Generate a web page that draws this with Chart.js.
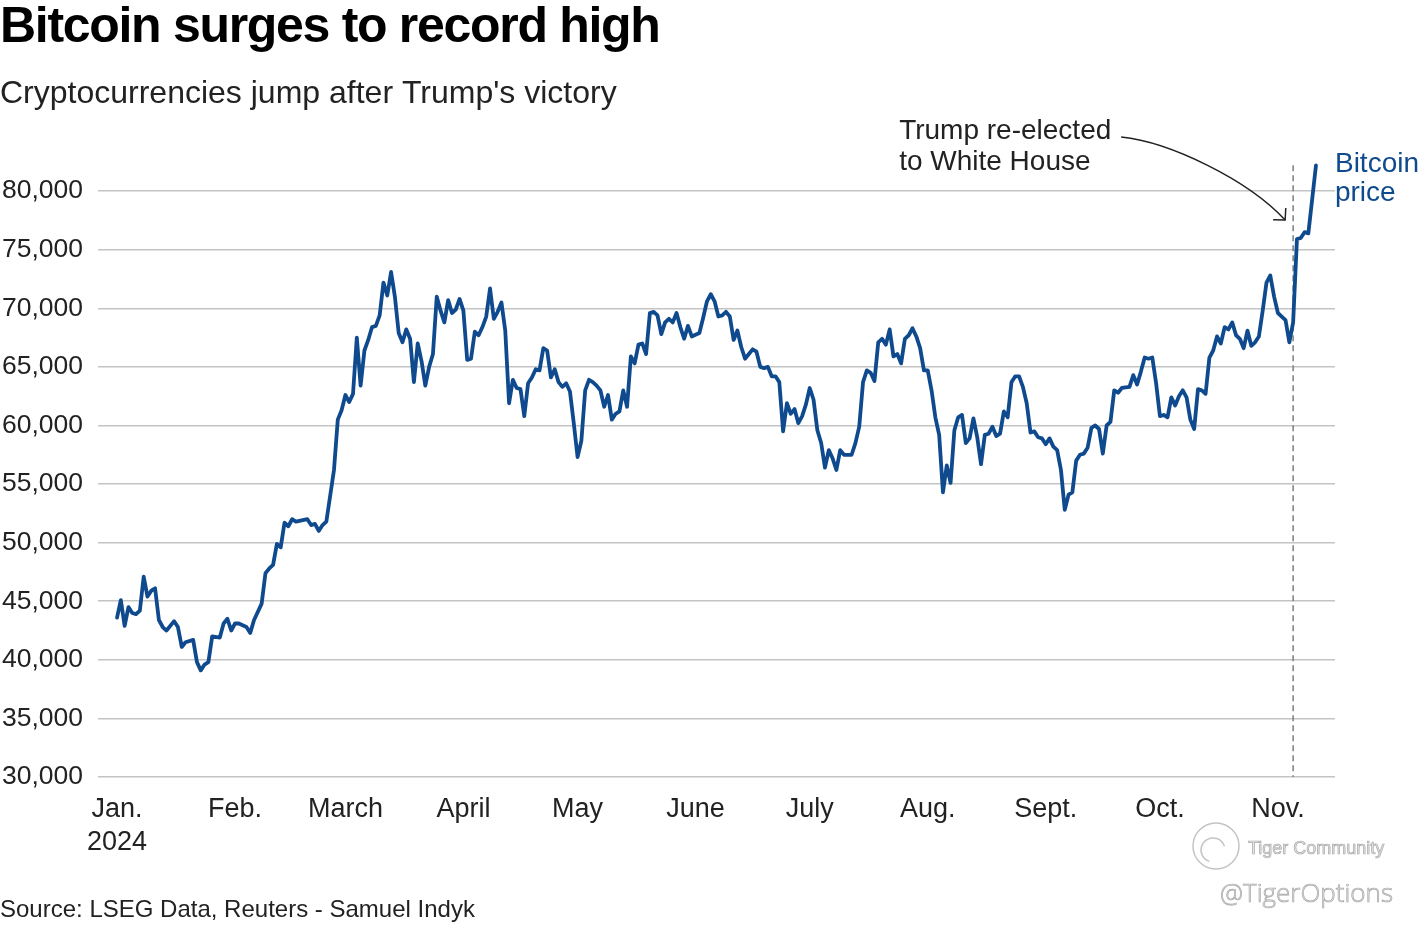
<!DOCTYPE html>
<html>
<head>
<meta charset="utf-8">
<title>Bitcoin surges to record high</title>
<script src="https://cdn.jsdelivr.net/npm/chart.js@4.4.1/dist/chart.umd.min.js"></script>
<style>
  html, body { margin: 0; padding: 0; background: #fff; }
  canvas { display: block; }
</style>
</head>
<body>
<canvas id="btcChart" width="1420" height="926"></canvas>
<script>
// day offsets from Jan 1 2024, and the price for that day
var days = [
  0, 1, 2, 3, 4, 5, 6, 7, 8, 9, 10, 11, 12, 13, 15, 16, 17, 18, 20, 21, 22, 23, 24, 25, 27, 28, 29, 30,
  31, 32, 34, 35, 36, 38, 39, 40, 41, 42, 43, 44, 45, 46, 47, 50, 51, 52, 53, 54, 55, 57, 58, 59,
  60, 61, 62, 63, 64, 65, 66, 67, 68, 69, 70, 71, 72, 73, 74, 75, 76, 77, 78, 79, 80, 81, 82, 83, 84, 85, 86, 87, 88, 89, 90,
  91, 92, 93, 94, 95, 96, 97, 98, 99, 100, 101, 102, 103, 104, 105, 106, 107, 108, 109, 110, 111, 112, 113, 114, 115, 116, 117, 118, 119, 120,
  121, 122, 123, 124, 125, 126, 127, 128, 129, 130, 131, 132, 133, 134, 135, 136, 137, 138, 139, 140, 141, 142, 143, 144, 145, 146, 147, 148, 149, 150, 151,
  153, 154, 155, 156, 157, 158, 159, 160, 161, 162, 163, 164, 165, 166, 167, 168, 169, 170, 171, 172, 173, 174, 175, 176, 177, 178, 179, 180, 181,
  182, 183, 184, 185, 186, 187, 188, 189, 190, 191, 193, 194, 195, 196, 197, 198, 199, 200, 201, 202, 203, 204, 205, 206, 207, 208, 209, 210, 211, 212,
  213, 214, 215, 216, 217, 218, 219, 220, 221, 222, 223, 224, 225, 226, 227, 228, 229, 230, 231, 232, 233, 234, 235, 236, 237, 238, 239, 240, 241, 242, 243,
  244, 245, 246, 247, 248, 249, 250, 251, 252, 253, 254, 255, 256, 257, 258, 259, 260, 261, 262, 263, 264, 266, 267, 268, 269, 270, 271, 272, 273,
  274, 275, 276, 277, 278, 279, 280, 281, 282, 283, 284, 285, 286, 287, 288, 289, 290, 291, 292, 293, 294, 295, 296, 297, 298, 299, 300, 301, 302, 303, 304,
  305, 306, 307, 308, 309, 310, 311, 312, 313, 314, 315
];
var prices = [
  43600, 45100, 42900, 44500, 44000, 43900, 44200, 47100, 45400, 45900, 46100, 43400, 42800, 42500, 43300, 42800, 41100, 41500, 41700, 39800, 39100, 39600, 39800, 42000, 41900, 43100, 43500, 42500,
  43100, 43100, 42800, 42300, 43400, 44800, 47400, 47800, 48100, 49900, 49600, 51700, 51400, 52000, 51800, 52000, 51500, 51600, 51000, 51500, 51800, 56200, 60500, 61300,
  62600, 62000, 62700, 67500, 63400, 66400, 67300, 68400, 68500, 69400, 72200, 71100, 73100, 71000, 67900, 67100, 68200, 67400, 63700, 67000, 65500, 63400, 65000, 66100, 71000, 69800, 68800, 70700, 69600, 69900, 70800,
  69800, 65600, 65700, 68000, 67700, 68400, 69300, 71700, 69100, 69700, 70500, 68100, 61900, 63900, 63200, 63100, 60800, 63600, 64100, 64800, 64700, 66600, 66400, 64100, 64800, 63700, 63300, 63600, 62900, 60200,
  57300, 58700, 63000, 63900, 63700, 63400, 63000, 61600, 62600, 60500, 61000, 61200, 63000, 61600, 65900, 65300, 66900, 67000, 66100, 69600, 69700, 69400, 67800, 68800, 69100, 68800, 69600, 68400, 67400, 68500, 67600,
  67900, 69200, 70600, 71200, 70600, 69300, 69400, 69700, 69300, 67300, 68100, 66700, 65700, 66100, 66500, 66300, 65000, 64900, 65000, 64200, 64200, 63700, 59500, 61900, 61000, 61400, 60200, 60800, 61800,
  63200, 62200, 59600, 58500, 56400, 57900, 57200, 56200, 57900, 57500, 57500, 58500, 59900, 63700, 64700, 64500, 63800, 67100, 67400, 66900, 68200, 65900, 66100, 65300, 67400, 67700, 68300, 67600, 66600, 64700,
  64700, 63000, 60700, 59200, 54300, 56600, 55100, 59600, 60700, 60900, 58500, 58900, 60600, 59000, 56700, 59200, 59300, 59900, 59100, 59300, 61200, 60700, 63700, 64200, 64200, 63300, 61900, 59400, 59500, 59000, 58900,
  58400, 58900, 58200, 57900, 56200, 52800, 54100, 54300, 57000, 57500, 57600, 58100, 59800, 60000, 59700, 57600, 60000, 60300, 63000, 62800, 63200, 63300, 64300, 63500, 64600, 65800, 65700, 65800, 63600,
  60800, 60900, 60700, 62400, 61700, 62500, 63000, 62400, 60500, 59700, 63100, 63000, 62700, 65800, 66400, 67600, 67000, 68400, 68200, 68800, 67700, 67400, 66600, 68100, 66800, 67100, 67600, 69800, 72200, 72800, 71000,
  69600, 69300, 69000, 67100, 68800, 75900, 76000, 76500, 76400, 79300, 82200
];

var monthStarts = [0, 31, 60, 91, 121, 152, 182, 213, 244, 274, 305];
var monthLabels = ['Jan.', 'Feb.', 'March', 'April', 'May', 'June', 'July', 'Aug.', 'Sept.', 'Oct.', 'Nov.'];
var yearLabel = '2024';
var yTicks = [30000, 35000, 40000, 45000, 50000, 55000, 60000, 65000, 70000, 75000, 80000];
var electionDay = 309;

var lineColor = '#0f4a8e';
var textColor = '#222222';
var fontFamily = '"Liberation Sans", Arial, sans-serif';

var annotationPlugin = {
    id: 'annotations',
    beforeDatasetsDraw: function (chart) {
        var ctx = chart.ctx;
        var xs = chart.scales.x;
        var ys = chart.scales.y;
        var px = xs.getPixelForValue(electionDay);
        ctx.save();
        ctx.strokeStyle = '#7d7d7d';
        ctx.lineWidth = 1.5;
        ctx.setLineDash([6, 4]);
        ctx.beginPath();
        ctx.moveTo(px, ys.getPixelForValue(prices[prices.length - 1]));
        ctx.lineTo(px, ys.bottom);
        ctx.stroke();
        ctx.restore();
    },
    afterDraw: function (chart) {
        var ctx = chart.ctx;
        var xs = chart.scales.x;
        var ys = chart.scales.y;
        var px = xs.getPixelForValue(electionDay);
        ctx.save();

        // title block
        ctx.textAlign = 'left';
        ctx.textBaseline = 'alphabetic';
        ctx.fillStyle = '#000';
        ctx.font = 'bold 50px ' + fontFamily;
        ctx.letterSpacing = '-1.3px';
        ctx.fillText('Bitcoin surges to record high', 0, 42);
        ctx.letterSpacing = '0px';
        ctx.fillStyle = textColor;
        ctx.font = '32px ' + fontFamily;
        ctx.fillText("Cryptocurrencies jump after Trump's victory", 0, 103);
        ctx.font = '24px ' + fontFamily;
        ctx.fillText('Source: LSEG Data, Reuters - Samuel Indyk', 0, 917);

        // election note + arrow
        ctx.font = '28px ' + fontFamily;
        ctx.fillText('Trump re-elected', px - 394, 139);
        ctx.fillText('to White House', px - 394, 170);

        var p0 = [px - 172, 137], c1 = [px - 123, 142], c2 = [px - 45, 180], p3 = [px - 8, 220];
        ctx.strokeStyle = '#222';
        ctx.lineWidth = 1.5;
        ctx.beginPath();
        ctx.moveTo(p0[0], p0[1]);
        ctx.bezierCurveTo(c1[0], c1[1], c2[0], c2[1], p3[0], p3[1]);
        ctx.stroke();
        var back = Math.atan2(c2[1] - p3[1], c2[0] - p3[0]);
        ctx.beginPath();
        ctx.moveTo(p3[0] + 12 * Math.cos(back - 0.8), p3[1] + 12 * Math.sin(back - 0.8));
        ctx.lineTo(p3[0], p3[1]);
        ctx.lineTo(p3[0] + 12 * Math.cos(back + 0.8), p3[1] + 12 * Math.sin(back + 0.8));
        ctx.stroke();

        // series label at the end of the line
        var lastX = xs.getPixelForValue(days[days.length - 1]);
        var lastY = ys.getPixelForValue(prices[prices.length - 1]);
        ctx.fillStyle = lineColor;
        ctx.fillText('Bitcoin', lastX + 19, lastY + 7);
        ctx.fillText('price', lastX + 19, lastY + 36);

        // watermark
        ctx.strokeStyle = '#c4c4c4';
        ctx.lineWidth = 1.5;
        ctx.beginPath();
        ctx.arc(1216, 846, 23, 0, Math.PI * 2);
        ctx.stroke();
        ctx.beginPath();
        ctx.arc(1213, 850, 12, Math.PI * 0.6, Math.PI * 1.9);
        ctx.stroke();
        ctx.fillStyle = '#e6e6e6';
        ctx.strokeStyle = '#a8a8a8';
        ctx.lineWidth = 0.7;
        ctx.font = '18px ' + fontFamily;
        ctx.fillText('Tiger Community', 1248, 854);
        ctx.strokeText('Tiger Community', 1248, 854);
        ctx.font = '300 26px "Open Sans", sans-serif';
        ctx.fillText('@TigerOptions', 1220, 902);
        ctx.strokeText('@TigerOptions', 1220, 902);
        ctx.restore();
    }
};

var config = {
    type: 'line',
    data: {
        datasets: [{
            label: 'Bitcoin price',
            data: days.map(function (d, i) { return { x: d, y: prices[i] }; }),
            borderColor: lineColor,
            borderWidth: 3.8,
            pointRadius: 0,
            tension: 0,
            borderJoinStyle: 'round',
            borderCapStyle: 'round'
        }]
    },
    options: {
        responsive: false,
        animation: false,
        devicePixelRatio: 1,
        layout: { padding: { left: 0, right: 85, top: 156, bottom: 0 } },
        plugins: {
            legend: { display: false },
            tooltip: { enabled: false }
        },
        scales: {
            x: {
                type: 'linear',
                min: -5,
                max: 320,
                grid: { display: false },
                border: { display: false },
                afterBuildTicks: function (scale) {
                    scale.ticks = monthStarts.map(function (v) { return { value: v }; });
                },
                afterFit: function (scale) { scale.height = 149; },
                ticks: {
                    autoSkip: false,
                    maxRotation: 0,
                    padding: 8,
                    color: textColor,
                    font: { family: fontFamily, size: 27, lineHeight: 1.22 },
                    callback: function (value, index) {
                        return index === 0 ? [monthLabels[0], yearLabel] : monthLabels[index];
                    }
                }
            },
            y: {
                min: 30000,
                max: 83000,
                afterBuildTicks: function (scale) {
                    scale.ticks = yTicks.map(function (v) { return { value: v }; });
                },
                afterFit: function (scale) { scale.width = 98; },
                grid: { color: '#c4c4c4', lineWidth: 1.5, drawTicks: false },
                border: { display: false },
                ticks: {
                    padding: 15,
                    color: textColor,
                    font: { family: fontFamily, size: 26.5 },
                    callback: function (value) { return value.toLocaleString('en-US'); }
                }
            }
        }
    },
    plugins: [annotationPlugin]
};

var btcChart = new Chart(document.getElementById('btcChart'), config);
</script>
</body>
</html>
